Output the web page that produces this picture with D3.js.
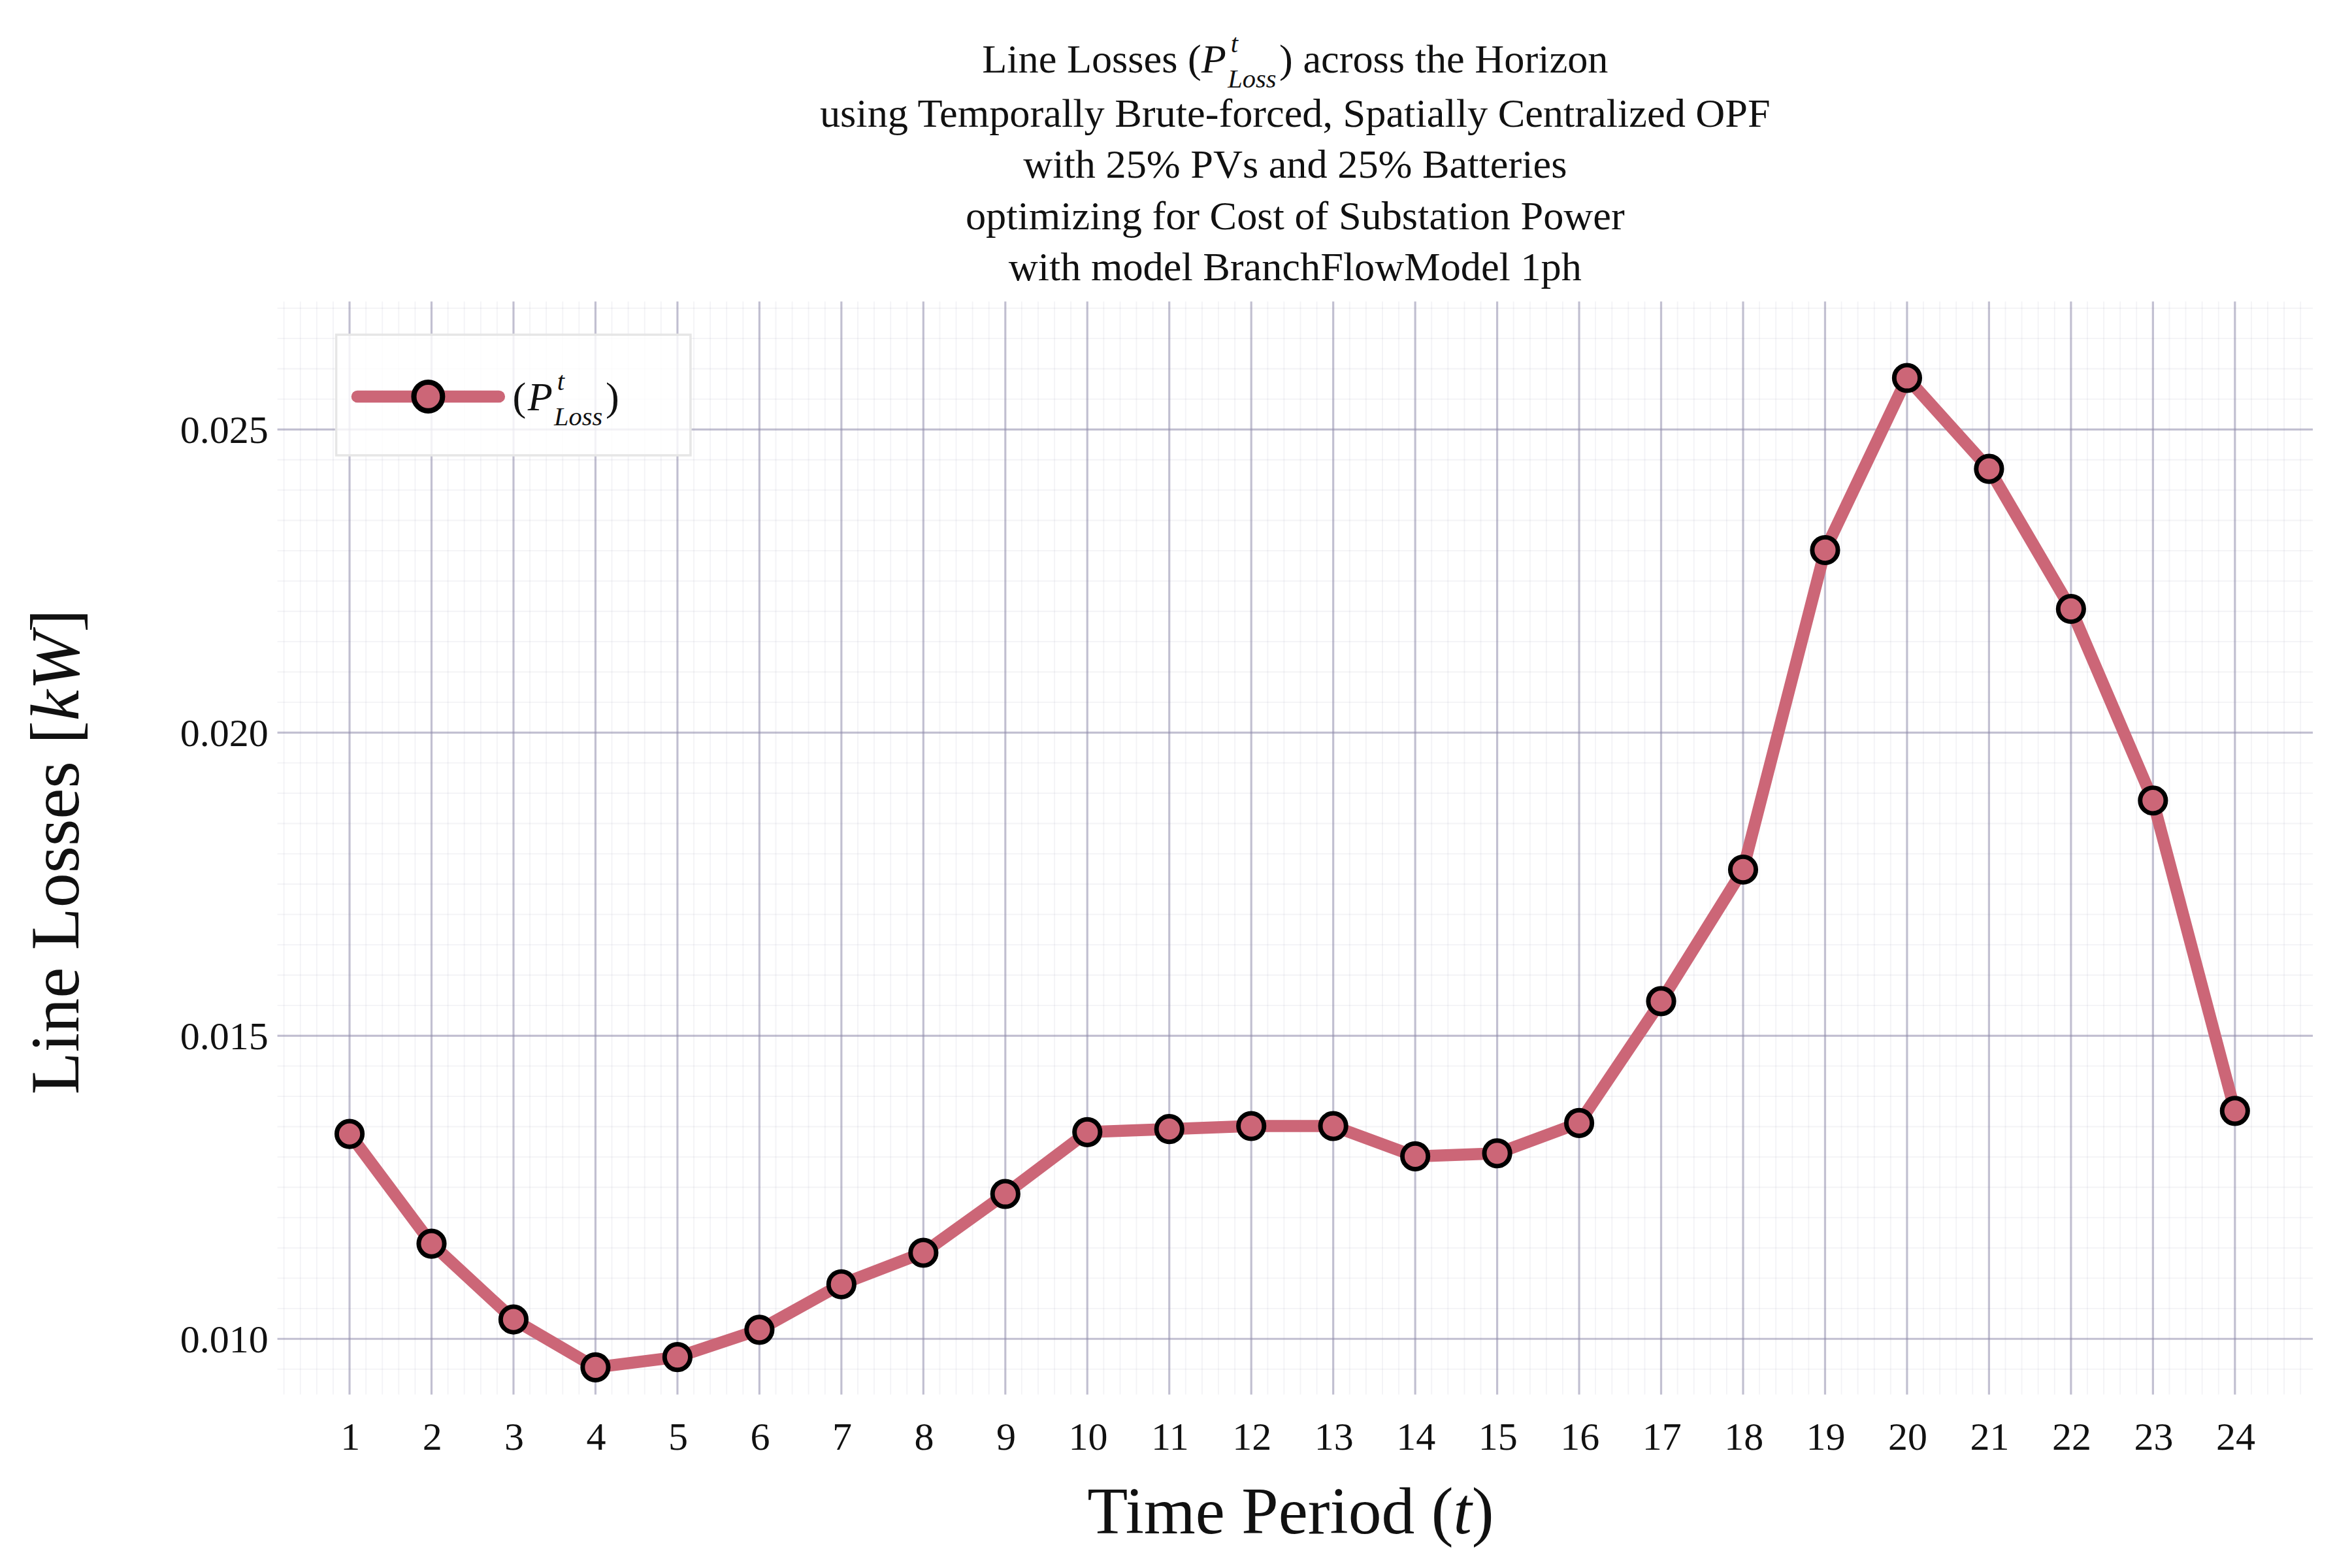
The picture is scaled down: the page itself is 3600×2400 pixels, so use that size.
<!DOCTYPE html>
<html>
<head>
<meta charset="utf-8">
<script src="https://cdn.jsdelivr.net/npm/d3@7"></script>
<style>
  body { margin: 0; background: #fff; }
  text { font-family: "Liberation Serif", "DejaVu Serif", serif; fill: #111; }
</style>
</head>
<body>
<div id="chart"></div>
<script>
// Data
var periods = d3.range(1, 25);
var lossValues = [0.01338, 0.01157, 0.01032, 0.00953, 0.00970, 0.01015, 0.01090, 0.01142,
  0.01239, 0.01341, 0.01346, 0.01351, 0.01351, 0.01301, 0.01306, 0.01356,
  0.01557, 0.01774, 0.02301, 0.02585, 0.02435, 0.02204, 0.01888, 0.01376];
var yTicks = [0.010, 0.015, 0.020, 0.025];
var titleLines = [
  "across the Horizon",
  "using Temporally Brute-forced, Spatially Centralized OPF",
  "with 25% PVs and 25% Batteries",
  "optimizing for Cost of Substation Power",
  "with model BranchFlowModel 1ph"
];

var W = 1552, H = 1040;
var margin = { top: 200, right: 22, bottom: 115, left: 180 };
var width = W - margin.left - margin.right;
var height = H - margin.top - margin.bottom;

var svg = d3.select("#chart").append("svg")
  .attr("width", 3600).attr("height", 2400)
  .attr("viewBox", `0 0 ${W} ${H}`);

var g = svg.append("g").attr("transform", `translate(${margin.left}, ${margin.top})`);

var x = d3.scaleLinear().domain([0.12, 24.95]).range([0, width]);
var y = d3.scaleLinear().domain([0.00908, 0.02711]).range([height, 0]);

// Minor grid
var gridColor = "#8e89aa";
g.append("g").selectAll("line").data(d3.range(0.2, 25, 0.2))
  .enter().append("line")
  .attr("x1", d => x(d)).attr("x2", d => x(d))
  .attr("y1", 0).attr("y2", height)
  .attr("stroke", gridColor).attr("stroke-opacity", 0.1).attr("stroke-width", 0.8);
g.append("g").selectAll("line").data(d3.range(0.0095, 0.0271, 0.0005))
  .enter().append("line")
  .attr("x1", 0).attr("x2", width)
  .attr("y1", d => y(d)).attr("y2", d => y(d))
  .attr("stroke", gridColor).attr("stroke-opacity", 0.1).attr("stroke-width", 0.8);

// Major grid
g.append("g").selectAll("line").data(periods)
  .enter().append("line")
  .attr("x1", d => x(d)).attr("x2", d => x(d))
  .attr("y1", 0).attr("y2", height)
  .attr("stroke", gridColor).attr("stroke-opacity", 0.5).attr("stroke-width", 1.4);
g.append("g").selectAll("line").data(yTicks)
  .enter().append("line")
  .attr("x1", 0).attr("x2", width)
  .attr("y1", d => y(d)).attr("y2", d => y(d))
  .attr("stroke", gridColor).attr("stroke-opacity", 0.5).attr("stroke-width", 1.4);

// Axes (labels only)
var bottomAxis = d3.axisBottom(x).tickValues(periods).tickSize(0).tickPadding(18);
var leftAxis = d3.axisLeft(y).tickValues(yTicks).tickFormat(d3.format(".3f")).tickSize(0).tickPadding(6);
g.append("g").attr("transform", `translate(0, ${height})`).call(bottomAxis)
  .call(a => a.select(".domain").remove())
  .selectAll("text").style("font-size", "26px").style("font-family", "Liberation Serif");
g.append("g").call(leftAxis)
  .call(a => a.select(".domain").remove())
  .selectAll("text").style("font-size", "26px").style("font-family", "Liberation Serif");

// Line and markers
var lineColor = "#cc6677";
g.append("path").datum(lossValues)
  .attr("fill", "none").attr("stroke", lineColor).attr("stroke-width", 8)
  .attr("stroke-linejoin", "round")
  .attr("d", d3.line().x((d, i) => x(periods[i])).y(d => y(d)));
g.append("g").selectAll("circle").data(lossValues)
  .enter().append("circle")
  .attr("cx", (d, i) => x(periods[i])).attr("cy", d => y(d)).attr("r", 8.5)
  .attr("fill", lineColor).attr("stroke", "#000").attr("stroke-width", 3);

// P^t_Loss drawn as separate texts; returns the end x
function pLoss(parent, x0, base, size) {
  var p = parent.append("text").attr("x", x0).attr("y", base)
    .style("font-size", size + "px").style("font-style", "italic").text("P");
  var pw = p.node().getComputedTextLength();
  var s = parent.append("text").attr("x", x0 + pw + 1).attr("y", base + size * 0.38)
    .style("font-size", (size * 0.65) + "px").style("font-style", "italic").text("Loss");
  parent.append("text").attr("x", x0 + pw + 3).attr("y", base - size * 0.5)
    .style("font-size", (size * 0.65) + "px").style("font-style", "italic").text("t");
  return x0 + pw + 1 + s.node().getComputedTextLength() + 2;
}

// Legend
var leg = svg.append("g").attr("transform", "translate(219, 222)");
leg.append("rect").attr("width", 235).attr("height", 80)
  .attr("fill", "#fff").attr("fill-opacity", 0.8).attr("stroke", "#e6e6e6").attr("stroke-width", 1.5);
leg.append("line").attr("x1", 14).attr("x2", 108).attr("y1", 41).attr("y2", 41)
  .attr("stroke", lineColor).attr("stroke-width", 8).attr("stroke-linecap", "round");
leg.append("circle").attr("cx", 61).attr("cy", 41).attr("r", 9.5)
  .attr("fill", lineColor).attr("stroke", "#000").attr("stroke-width", 3.5);
var lo = leg.append("text").attr("x", 117).attr("y", 50).style("font-size", "27px").text("(");
var lEnd = pLoss(leg, 117 + lo.node().getComputedTextLength() + 1, 50, 27);
leg.append("text").attr("x", lEnd).attr("y", 50).style("font-size", "27px").text(")");

// Title
var title = svg.append("g");
var tA = title.append("text").attr("x", 0).attr("y", 48).style("font-size", "27px").text("Line Losses (");
var aw = tA.node().getComputedTextLength();
var pEnd = pLoss(title, aw, 48, 27);
var tB = title.append("text").attr("x", pEnd).attr("y", 48).style("font-size", "27px").text(") " + titleLines[0]);
var total = pEnd + tB.node().getComputedTextLength();
title.attr("transform", `translate(${855 - total / 2}, 0)`);
svg.selectAll(".sub").data(titleLines.slice(1)).enter().append("text")
  .attr("x", 855).attr("y", (d, i) => 84 + i * 34).attr("text-anchor", "middle")
  .style("font-size", "27px").text(d => d);

// Axis labels
var xl = svg.append("text").attr("x", 852).attr("y", 1017).attr("text-anchor", "middle").style("font-size", "44px");
xl.append("tspan").text("Time Period (");
xl.append("tspan").style("font-style", "italic").text("t");
xl.append("tspan").text(")");

var yl = svg.append("text").attr("transform", "translate(48, 565) rotate(-90)")
  .attr("text-anchor", "middle").style("font-size", "46px");
yl.append("tspan").text("Line Losses [");
yl.append("tspan").style("font-style", "italic").text("kW");
yl.append("tspan").text("]");
</script>
</body>
</html>
